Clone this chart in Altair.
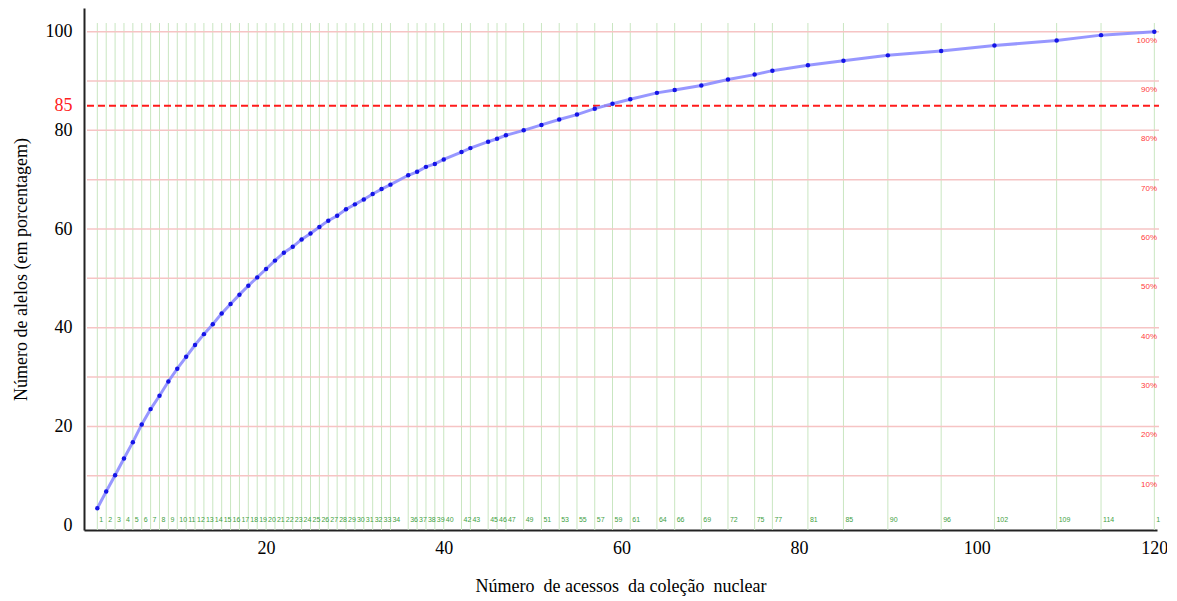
import altair as alt
import pandas as pd

# ---- data ----
acessos = list(range(1, 35)) + [36, 37, 38, 39, 40, 42, 43, 45, 46, 47, 49, 51, 53, 55,
                                57, 59, 61, 64, 66, 69, 72, 75, 77, 81, 85, 90, 96, 102,
                                109, 114, 120]
alelos = [3.4, 6.8, 10.1, 13.5, 16.8, 20.4, 23.5, 26.2, 29.1, 31.7, 34.1, 36.5, 38.7,
          40.7, 42.9, 44.8, 46.7, 48.5, 50.2, 51.9, 53.6, 55.2, 56.4, 57.9, 59.1, 60.4,
          61.7, 62.7, 64.0, 65.0, 66.0, 67.1, 68.1, 69.0, 70.9, 71.6, 72.6, 73.2, 74.1,
          75.6, 76.4, 77.7, 78.3, 79.0, 80.0, 81.1, 82.2, 83.2, 84.4, 85.4, 86.3, 87.6,
          88.2, 89.1, 90.3, 91.3, 92.1, 93.2, 94.1, 95.2, 96.1, 97.2, 98.2, 99.3, 100.0]
# green labels under the vertical lines (the last one is cut to "1" in the source)
acessos_labels = [str(a) for a in acessos[:-1]] + ["1"]
grid_pct = [10, 20, 30, 40, 50, 60, 70, 80, 90, 100]
grid_pct_labels = [f"{p}%" for p in grid_pct]
y_ticks = [0, 20, 40, 60, 80, 85, 100]
x_ticks = [20, 40, 60, 80, 100, 120]
limiar = 85

df = pd.DataFrame({"x": acessos, "y": alelos, "lab": acessos_labels})
gdf = pd.DataFrame({"p": grid_pct, "lab": grid_pct_labels})
tdf = pd.DataFrame({"t": [limiar]})

W, H = 1073, 522
FONT = "Liberation Serif"

xs = alt.Scale(domain=[-0.5, 120.3], nice=False, zero=False)
ys = alt.Scale(domain=[-1.0, 104.8], nice=False, zero=False)

common = dict(grid=False, ticks=False, labelFont=FONT, labelFontSize=18,
              titleFont=FONT, titleFontSize=18, titleFontWeight="normal",
              titleColor="black", domainColor="#222222", domainWidth=2)

xaxis = alt.Axis(values=x_ticks, labelPadding=9, labelColor="black",
                 title="Número\u00a0 de acessos\u00a0 da coleção\u00a0 nuclear",
                 titlePadding=20, **common)
yaxis = alt.Axis(values=y_ticks, labelPadding=12,
                 labelColor=alt.expr("datum.value == 85 ? '#ff2020' : 'black'"),
                 title="Número de alelos (em porcentagem)",
                 titlePadding=15, **common)

base = alt.Chart(df)

vlines = base.mark_rule(color="#c9e6c1", strokeWidth=1).encode(
    x=alt.X("x:Q", scale=xs, axis=xaxis),
    y=alt.value(15), y2=alt.value(H))

vlabels = base.mark_text(color="#3f9f3f", fontSize=7, align="left", baseline="middle",
                         dx=2, font="Liberation Sans").encode(
    x=alt.X("x:Q", scale=xs), y=alt.value(512), text="lab:N")

hgrid = alt.Chart(gdf).mark_rule(color="#f6c4c4", strokeWidth=1.5).encode(
    y=alt.Y("p:Q", scale=ys, axis=yaxis),
    x=alt.value(3), x2=alt.value(W + 2))

hlabels = alt.Chart(gdf).mark_text(color="#ff3b3b", fontSize=8, align="right",
                                   baseline="middle", dy=9,
                                   font="Liberation Sans").encode(
    y=alt.Y("p:Q", scale=ys), x=alt.value(W), text="lab:N")

thresh = alt.Chart(tdf).mark_rule(color="#ff1a1a", strokeWidth=2,
                                  strokeDash=[7, 4]).encode(
    y=alt.Y("t:Q", scale=ys), x=alt.value(3), x2=alt.value(W + 2))

line = base.mark_line(color="#8c8cff", strokeWidth=3, opacity=0.9).encode(
    x=alt.X("x:Q", scale=xs), y=alt.Y("y:Q", scale=ys))

pts = base.mark_circle(color="#1414e6", size=20, opacity=1).encode(
    x=alt.X("x:Q", scale=xs), y=alt.Y("y:Q", scale=ys))

chart = alt.layer(vlines, hgrid, vlabels, hlabels, thresh, line, pts).properties(
    width=W, height=H, background="white",
    autosize=alt.AutoSizeParams(type="none"),
    padding={"left": 76, "top": 0, "right": 10, "bottom": 70},
).configure_axis(
    labelFont=FONT, labelFontSize=18,
    titleFont=FONT, titleFontSize=18, titleFontWeight="normal", titleColor="black",
    domainColor="#222222", domainWidth=2,
).configure_view(stroke=None)

chart.save("out.html", embed_options={"renderer": "svg", "actions": False})
